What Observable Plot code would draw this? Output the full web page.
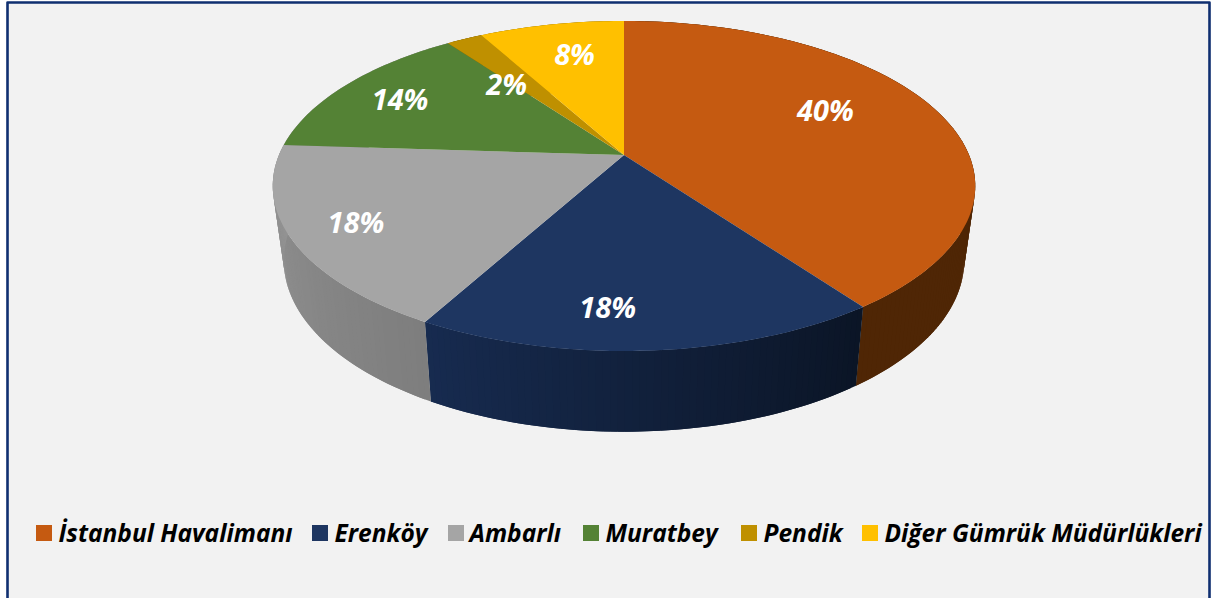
<!DOCTYPE html>
<html>
<head>
<meta charset="utf-8">
<script src="https://cdn.jsdelivr.net/npm/d3@7"></script>
<script src="https://cdn.jsdelivr.net/npm/@observablehq/plot@0.6"></script>
<style>
html,body{margin:0;padding:0;background:#fff;overflow:hidden}
svg{display:block}
</style>
</head>
<body>
<div id="chart"></div>
<script>
const categories = ["İstanbul Havalimanı", "Erenköy", "Ambarlı", "Muratbey", "Pendik", "Diğer Gümrük Müdürlükleri"];
const shares = [40, 18, 18, 14, 2, 8];
const percentLabels = ["40%", "18%", "18%", "14%", "2%", "8%"];

// styles and layout, kept apart from the values
const W = 1213, H = 598;
const topColors = ["#c55a11", "#1e3661", "#a5a5a5", "#548235", "#bf9000", "#ffc000"];
const wallColors = [["#4f2605", "#4f2605"], ["#0b1526", "#172b50"], ["#7e7e7e", "#959595"],
                    ["#959595", "#959595"], ["#7a5c00", "#7a5c00"], ["#a37b00", "#a37b00"]];
const legendSwatchX = [36, 312, 448, 583, 741, 862];
const legendTextX = [58, 334, 469, 605, 763, 884];
const labelRadius = [0.68, 0.815, 0.822, 0.788, 0.605, 0.73];
const labelTurn = [-7.4, 6.5, 0, -0.8, -5.6, 1.4];
const FONT = "'Open Sans', sans-serif";

// perspective of the pie's top face and of its lower rim
const topFace = {A: 345, B: 159.2, k: 0.1879, cx: 624, cy: 155};
const lowRim = {A: 334, B: 165, k: 0.19, cx: 624, cy: 228};
const project = (p, deg, r = 1) => {
  const a = deg * Math.PI / 180, u = r * Math.sin(a), v = r * Math.cos(a), d = 1 + p.k * v;
  return [p.cx + p.A * u / d, p.cy - p.B * v / d];
};

const total = d3.sum(shares);
const cum = d3.cumsum(shares);
const slices = shares.map((s, i) => ({i, start: (cum[i] - s) / total * 360, end: cum[i] / total * 360}));

const topRows = [], wallRows = [];
for (const s of slices) {
  const n = Math.max(2, Math.ceil(s.end - s.start));
  const interp = d3.interpolateRgb(wallColors[s.i][0], wallColors[s.i][1]);
  for (let j = 0; j <= n; j++) {
    const deg = s.start + (s.end - s.start) * j / n;
    const [x, y] = project(topFace, deg);
    topRows.push({id: s.i, x1: topFace.cx, y1: topFace.cy, x2: x, y2: y});
  }
  // each wall strip runs a little into the next one, so that no seam shows between them
  for (let j = 0; j < n; j++) {
    for (const q of [j, Math.min(j + 2, n)]) {
      const deg = s.start + (s.end - s.start) * q / n;
      const [x, y] = project(topFace, deg);
      const [xb, yb] = project(lowRim, deg);
      wallRows.push({id: s.i + "-" + j, x1: x, y1: y, x2: xb, y2: yb, color: interp(j / n)});
    }
  }
}
const labels = slices.map(s => {
  const [x, y] = project(topFace, (s.start + s.end) / 2 + labelTurn[s.i], labelRadius[s.i]);
  return {x, y, text: percentLabels[s.i]};
});
const legend = categories.map((name, i) => ({name, color: topColors[i], sx: legendSwatchX[i], tx: legendTextX[i]}));

const plot = Plot.plot({
  width: W, height: H,
  marginTop: 0, marginRight: 0, marginBottom: 0, marginLeft: 0,
  style: {background: "#fff", fontFamily: FONT},
  x: {domain: [0, W], range: [0, W], axis: null},
  y: {domain: [0, H], range: [0, H], axis: null},
  color: {type: "identity"},
  marks: [
    Plot.rect([{}], {x1: () => 7, x2: () => 1209, y1: () => 2, y2: () => H, fill: "#f2f2f2"}),
    Plot.line([[7, H], [7, 2], [1209, 2], [1209, H]], {x: d => d[0], y: d => d[1], stroke: "#0f2f70", strokeWidth: 2.6, curve: "linear"}),
    Plot.area(wallRows, {x1: "x1", y1: "y1", x2: "x2", y2: "y2", z: "id", fill: "color", curve: "linear"}),
    Plot.area(topRows, {x1: "x1", y1: "y1", x2: "x2", y2: "y2", z: "id", fill: d => topColors[d.id], curve: "linear"}),
    Plot.text(labels, {x: "x", y: "y", text: "text", fill: "#fff", fontSize: 29, fontWeight: 700, fontStyle: "italic", fontFamily: FONT, textAnchor: "middle", lineAnchor: "middle"}),
    Plot.rect(legend, {x1: "sx", x2: d => d.sx + 16, y1: () => 525, y2: () => 541, fill: "color"}),
    Plot.text(legend, {x: "tx", y: () => 541, text: "name", fill: "#000", fontSize: 24.5, fontWeight: 700, fontStyle: "italic", fontFamily: FONT, textAnchor: "start", lineAnchor: "bottom"})
  ]
});
document.getElementById("chart").append(plot);
</script>
</body>
</html>
